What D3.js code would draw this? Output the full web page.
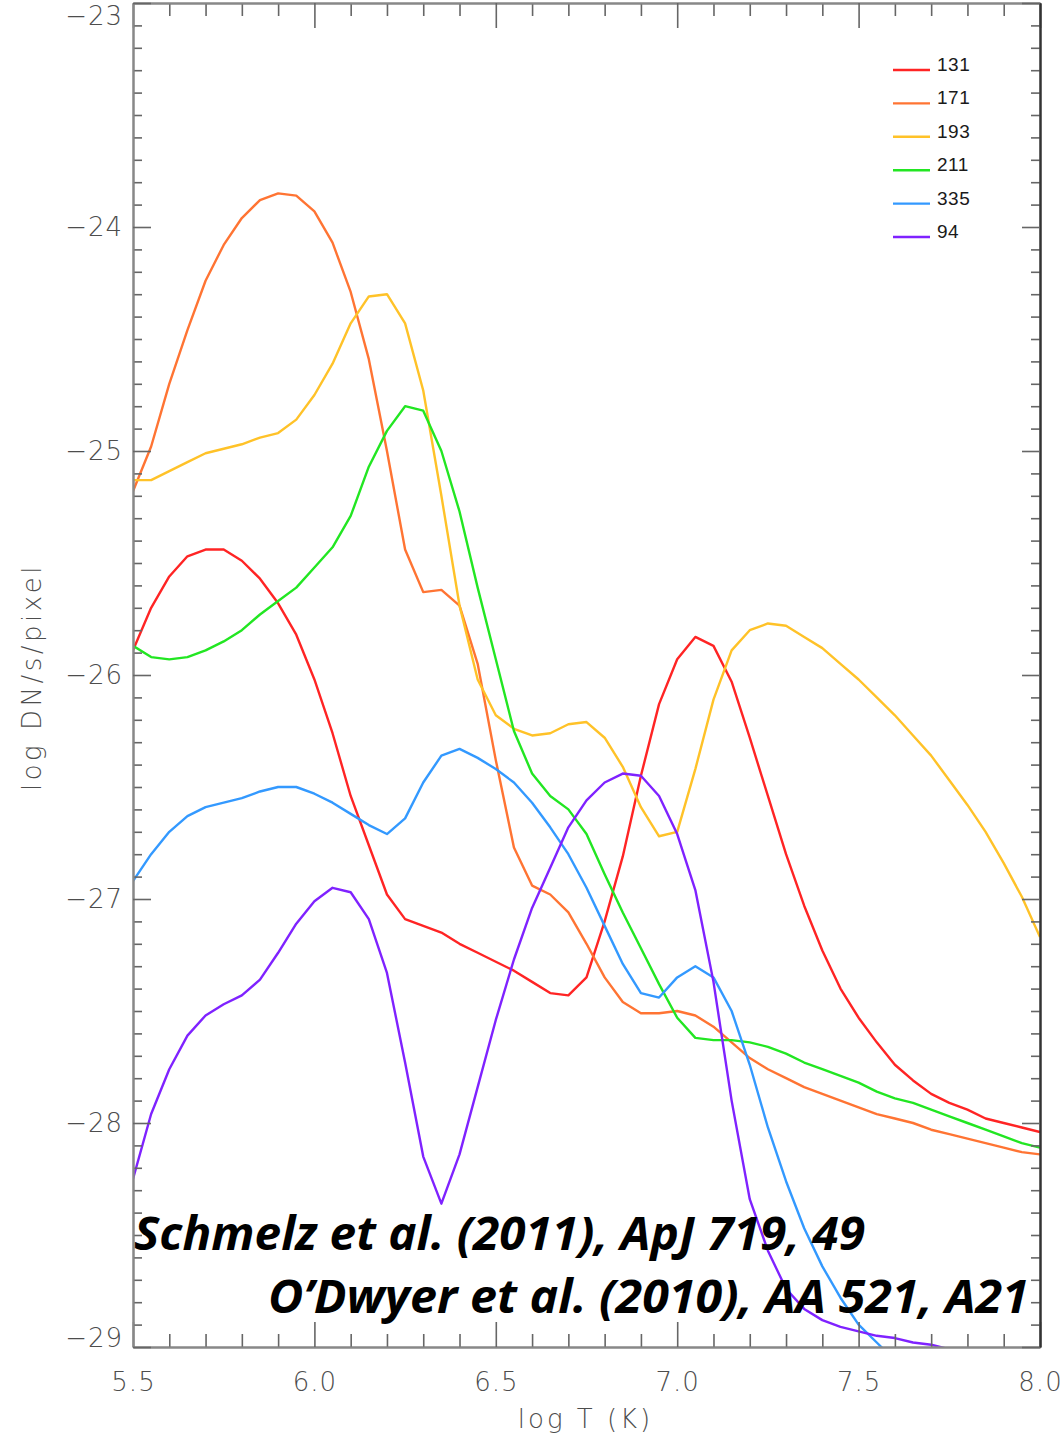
<!DOCTYPE html>
<html>
<head>
<meta charset="utf-8">
<script src="https://cdn.jsdelivr.net/npm/d3@7"></script>
<style>
  body { margin: 0; background: #fff; }
  svg { display: block; }
</style>
</head>
<body>
<svg id="chart" width="1062" height="1440"></svg>
<script>

// log T grid (K)
let logT = [5.50, 5.55, 5.60, 5.65, 5.70, 5.75, 5.80, 5.85, 5.90, 5.95,
            6.00, 6.05, 6.10, 6.15, 6.20, 6.25, 6.30, 6.35, 6.40, 6.45,
            6.50, 6.55, 6.60, 6.65, 6.70, 6.75, 6.80, 6.85, 6.90, 6.95,
            7.00, 7.05, 7.10, 7.15, 7.20, 7.25, 7.30, 7.35, 7.40, 7.45,
            7.50, 7.55, 7.60, 7.65, 7.70, 7.75, 7.80, 7.85, 7.90, 7.95, 8.00];

// log DN/s/pixel for each channel
let resp131 = [-25.89, -25.70, -25.56, -25.47, -25.44, -25.44, -25.49, -25.57, -25.68, -25.82,
               -26.02, -26.26, -26.54, -26.76, -26.98, -27.09, -27.12, -27.15, -27.20, -27.24,
               -27.28, -27.32, -27.37, -27.42, -27.43, -27.35, -27.10, -26.81, -26.45, -26.13,
               -25.93, -25.83, -25.87, -26.03, -26.28, -26.54, -26.80, -27.03, -27.23, -27.40,
               -27.53, -27.64, -27.74, -27.81, -27.87, -27.91, -27.94, -27.98, -28.00, -28.02, -28.04];
let resp171 = [-25.18, -24.98, -24.70, -24.46, -24.24, -24.08, -23.96, -23.88, -23.85, -23.86,
               -23.93, -24.07, -24.29, -24.59, -25.00, -25.44, -25.63, -25.62, -25.69, -25.95,
               -26.38, -26.77, -26.94, -26.98, -27.06, -27.20, -27.35, -27.46, -27.51, -27.51,
               -27.50, -27.52, -27.57, -27.64, -27.71, -27.76, -27.80, -27.84, -27.87, -27.90,
               -27.93, -27.96, -27.98, -28.00, -28.03, -28.05, -28.07, -28.09, -28.11, -28.13, -28.14];
let resp193 = [-25.13, -25.13, -25.09, -25.05, -25.01, -24.99, -24.97, -24.94, -24.92, -24.86,
               -24.75, -24.61, -24.43, -24.31, -24.30, -24.43, -24.73, -25.20, -25.69, -26.02,
               -26.18, -26.24, -26.27, -26.26, -26.22, -26.21, -26.28, -26.41, -26.59, -26.72,
               -26.70, -26.42, -26.11, -25.89, -25.80, -25.77, -25.78, -25.83, -25.88, -25.95,
               -26.02, -26.10, -26.18, -26.27, -26.36, -26.47, -26.58, -26.70, -26.84, -26.99, -27.17];
let resp211 = [-25.87, -25.92, -25.93, -25.92, -25.89, -25.85, -25.80, -25.73, -25.67, -25.61,
               -25.52, -25.43, -25.29, -25.07, -24.91, -24.80, -24.82, -25.00, -25.27, -25.61,
               -25.93, -26.25, -26.44, -26.54, -26.60, -26.71, -26.89, -27.06, -27.22, -27.38,
               -27.53, -27.62, -27.63, -27.63, -27.64, -27.66, -27.69, -27.73, -27.76, -27.79,
               -27.82, -27.86, -27.89, -27.91, -27.94, -27.97, -28.00, -28.03, -28.06, -28.09, -28.11];
let resp335 = [-26.92, -26.80, -26.70, -26.63, -26.59, -26.57, -26.55, -26.52, -26.50, -26.50,
               -26.53, -26.57, -26.62, -26.67, -26.71, -26.64, -26.48, -26.36, -26.33, -26.37,
               -26.42, -26.48, -26.57, -26.68, -26.80, -26.95, -27.12, -27.29, -27.42, -27.44,
               -27.35, -27.30, -27.35, -27.50, -27.74, -28.02, -28.26, -28.47, -28.64, -28.78,
               -28.90, -28.98, -29.06, null, null, null, null, null, null, null, null];
let resp94  = [-28.25, -27.96, -27.76, -27.61, -27.52, -27.47, -27.43, -27.36, -27.24, -27.11,
               -27.01, -26.95, -26.97, -27.09, -27.33, -27.73, -28.15, -28.36, -28.14, -27.84,
               -27.54, -27.27, -27.04, -26.86, -26.68, -26.56, -26.48, -26.44, -26.45, -26.54,
               -26.71, -26.96, -27.37, -27.90, -28.34, -28.57, -28.74, -28.83, -28.88, -28.91,
               -28.93, -28.95, -28.96, -28.98, -28.99, -29.01, null, null, null, null, null];

let channels = ["131", "171", "193", "211", "335", "94"];
let channelColors = ["#ff2424", "#ff7433", "#ffc228", "#22e622", "#3399ff", "#7f22ff"];
let channelValues = [resp131, resp171, resp193, resp211, resp335, resp94];

let xMajorTicks = [5.5, 6.0, 6.5, 7.0, 7.5, 8.0];
let yMajorTicks = [-23, -24, -25, -26, -27, -28, -29];

let notes = ["Schmelz et al. (2011), ApJ 719, 49",
             "O\u2019Dwyer et al. (2010), AA 521, A21"];


// layout
let plot = { left: 133, right: 1040, top: 3, bottom: 1347 };

let svg = d3.select("#chart");

let xScale = d3.scaleLinear()
               .domain([5.5, 8.0])
               .range([plot.left, plot.right]);
let yScale = d3.scaleLinear()
               .domain([-29, -23])
               .range([plot.bottom, plot.top]);

let xMinorTicks = d3.range(56, 80).map(d => d / 10).filter(d => !xMajorTicks.includes(d));
let yMinorTicks = d3.range(-290, -229).map(d => d / 10).filter(d => !yMajorTicks.includes(d));

svg.append("rect")
   .attr("width", 1062)
   .attr("height", 1440)
   .attr("fill", "#fff");

svg.append("clipPath")
   .attr("id", "plotClip")
   .append("rect")
   .attr("x", plot.left)
   .attr("y", plot.top)
   .attr("width", plot.right - plot.left)
   .attr("height", plot.bottom - plot.top);


function labelStyle(sel) {
    sel.attr("fill", "#4d4d4d")
       .style("font-family", "'DejaVu Sans', sans-serif")
       .style("font-weight", 200)
       .style("font-size", "26px");
}

function styleAxis(g, color) {
    g.selectAll("path.domain").attr("stroke", color).attr("stroke-width", 2);
    g.selectAll(".tick line").attr("stroke", "#666").attr("stroke-width", 1.6);
    g.selectAll(".tick text")
     .call(labelStyle)
     .style("letter-spacing", "1px");
}

function drawAxes() {
    // bottom
    let bottomMinor = svg.append("g")
                         .attr("transform", `translate(0,${plot.bottom})`)
                         .call(d3.axisBottom(xScale).tickValues(xMinorTicks)
                                 .tickSizeInner(-13).tickSizeOuter(0).tickFormat(""));
    styleAxis(bottomMinor, "#888");
    let bottomMajor = svg.append("g")
                         .attr("transform", `translate(0,${plot.bottom})`)
                         .call(d3.axisBottom(xScale).tickValues(xMajorTicks)
                                 .tickSizeInner(-25).tickSizeOuter(0).tickPadding(26)
                                 .tickFormat(d3.format(".1f")));
    styleAxis(bottomMajor, "#888");

    // top
    let topMinor = svg.append("g")
                      .attr("transform", `translate(0,${plot.top})`)
                      .call(d3.axisTop(xScale).tickValues(xMinorTicks)
                              .tickSizeInner(-13).tickSizeOuter(0).tickFormat(""));
    styleAxis(topMinor, "#888");
    let topMajor = svg.append("g")
                      .attr("transform", `translate(0,${plot.top})`)
                      .call(d3.axisTop(xScale).tickValues(xMajorTicks)
                              .tickSizeInner(-25).tickSizeOuter(0).tickFormat(""));
    styleAxis(topMajor, "#888");

    // left
    let leftMinor = svg.append("g")
                       .attr("transform", `translate(${plot.left},0)`)
                       .call(d3.axisLeft(yScale).tickValues(yMinorTicks)
                               .tickSizeInner(-9).tickSizeOuter(0).tickFormat(""));
    styleAxis(leftMinor, "#888");
    let leftMajor = svg.append("g")
                       .attr("transform", `translate(${plot.left},0)`)
                       .call(d3.axisLeft(yScale).tickValues(yMajorTicks)
                               .tickSizeInner(-18).tickSizeOuter(0).tickPadding(10)
                               .tickFormat(d3.format("d")));
    styleAxis(leftMajor, "#888");
    // end labels sit inside the frame
    leftMajor.selectAll(".tick text")
             .filter(d => d === -23)
             .attr("y", 13);
    leftMajor.selectAll(".tick text")
             .filter(d => d === -29)
             .attr("y", -9);

    // right
    let rightMinor = svg.append("g")
                        .attr("transform", `translate(${plot.right},0)`)
                        .call(d3.axisRight(yScale).tickValues(yMinorTicks)
                                .tickSizeInner(-9).tickSizeOuter(0).tickFormat(""));
    styleAxis(rightMinor, "#333");
    let rightMajor = svg.append("g")
                        .attr("transform", `translate(${plot.right},0)`)
                        .call(d3.axisRight(yScale).tickValues(yMajorTicks)
                                .tickSizeInner(-18).tickSizeOuter(0).tickFormat(""));
    styleAxis(rightMajor, "#333");

    // axis titles
    svg.append("text")
       .attr("x", (plot.left + plot.right) / 2 - 1)
       .attr("y", 1428)
       .attr("text-anchor", "middle")
       .call(labelStyle)
       .style("letter-spacing", "3px")
       .text("log T (K)");

    svg.append("text")
       .attr("transform", "translate(41,677) rotate(-90)")
       .attr("text-anchor", "middle")
       .call(labelStyle)
       .style("letter-spacing", "3.5px")
       .text("log DN/s/pixel");
}

function drawCurves() {
    let curveView = svg.append("g")
                       .attr("clip-path", "url(#plotClip)");

    let line = d3.line()
                 .defined(d => d[1] !== null)
                 .x(d => xScale(d[0]))
                 .y(d => yScale(d[1]));

    channels.forEach(function(ch, i) {
        let pts = logT.map((t, j) => [t, channelValues[i][j]]);
        curveView.append("path")
                 .datum(pts)
                 .attr("fill", "none")
                 .attr("stroke", channelColors[i])
                 .attr("stroke-width", 2.4)
                 .attr("stroke-linejoin", "round")
                 .attr("d", line);
    });
}

function drawLegend() {
    let legend = svg.append("g")
                    .attr("id", "legend");

    legend.selectAll("line")
          .data(channels)
          .join("line")
          .attr("x1", 893)
          .attr("x2", 930)
          .attr("y1", (d, i) => 70 + i * 33.4)
          .attr("y2", (d, i) => 70 + i * 33.4)
          .attr("stroke", (d, i) => channelColors[i])
          .attr("stroke-width", 2.4);

    legend.selectAll("text")
          .data(channels)
          .join("text")
          .attr("x", 937)
          .attr("y", (d, i) => 71 + i * 33.4)
          .attr("fill", "#1a1a1a")
          .style("font-family", "'Liberation Sans', Arial, sans-serif")
          .style("font-size", "19px")
          .style("letter-spacing", "0.5px")
          .text(d => d);
}

function drawNotes() {
    let spans = [{ x: 134, y: 1250, w: 731 }, { x: 268, y: 1313, w: 761 }];
    svg.selectAll("text.note")
       .data(notes)
       .join("text")
       .attr("class", "note")
       .attr("x", (d, i) => spans[i].x)
       .attr("y", (d, i) => spans[i].y)
       .attr("textLength", (d, i) => spans[i].w)
       .attr("lengthAdjust", "spacingAndGlyphs")
       .attr("fill", "#000")
       .style("font-family", "'Open Sans', 'Noto Sans', sans-serif")
       .style("font-weight", 700)
       .style("font-style", "italic")
       .style("font-size", "47px")
       .text(d => d);
}

drawCurves();
drawAxes();
drawLegend();
drawNotes();

</script>
</body>
</html>
